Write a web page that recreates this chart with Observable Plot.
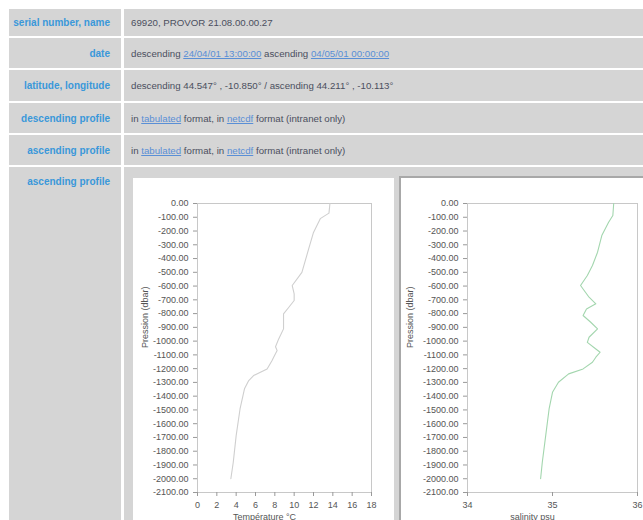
<!DOCTYPE html>
<html>
<head>
<meta charset="utf-8">
<script src="https://cdn.jsdelivr.net/npm/d3@7"></script>
<script src="https://cdn.jsdelivr.net/npm/@observablehq/plot@0.6"></script>
<style>
  html, body { margin: 0; padding: 0; background: #fff; }
  #page { position: relative; width: 643px; height: 520px; overflow: hidden; font-family: "Liberation Sans", Arial, sans-serif; }
  .lab { position: absolute; left: 9px; width: 112px; background: #d5d5d5; color: #3a98da; font-weight: bold; font-size: 10px; text-align: right; box-sizing: border-box; padding-right: 11px; display: flex; align-items: center; justify-content: flex-end; white-space: nowrap; }
  .val { position: absolute; left: 124px; width: 530px; background: #d5d5d5; color: #4b4f5e; font-size: 9.7px; box-sizing: border-box; padding-left: 7px; display: flex; align-items: center; white-space: pre; }
  .val a { color: #5a8fd6; text-decoration: underline; }
  .box { position: absolute; background: #fff; overflow: hidden; }
</style>
</head>
<body>
<div id="page"></div>
<script>
// ---- data ----
const rowLabels = ["serial number, name", "date", "latitude, longitude", "descending profile", "ascending profile", "ascending profile"];
const rowValues = [
  "69920, PROVOR 21.08.00.00.27",
  'descending <a>24/04/01 13:00:00</a> ascending <a>04/05/01 00:00:00</a>',
  "descending 44.547° , -10.850° / ascending 44.211° , -10.113°",
  'in <a>tabulated</a> format, in <a>netcdf</a> format (intranet only)',
  'in <a>tabulated</a> format, in <a>netcdf</a> format (intranet only)',
  ""
];

const tempDepth = [0, 70, 110, 210, 330, 500, 596, 656, 705, 754, 802, 911, 984, 1041, 1069, 1105, 1142, 1202, 1250, 1287, 1347, 1493, 1687, 1880, 2000];
const tempValue = [13.7, 13.6, 12.7, 12.0, 11.5, 10.8, 9.8, 10.0, 10.0, 9.45, 8.9, 8.9, 8.4, 8.07, 8.24, 7.97, 7.7, 7.2, 5.8, 5.3, 4.86, 4.4, 4.0, 3.7, 3.45];

const salDepth = [0, 87, 136, 233, 354, 451, 523, 596, 681, 729, 766, 814, 863, 911, 972, 1009, 1057, 1081, 1117, 1154, 1202, 1238, 1299, 1372, 1493, 1687, 1880, 2000];
const salValue = [35.72, 35.71, 35.66, 35.58, 35.53, 35.47, 35.41, 35.33, 35.43, 35.51, 35.40, 35.36, 35.45, 35.53, 35.43, 35.41, 35.51, 35.56, 35.51, 35.47, 35.36, 35.19, 35.07, 35.0, 34.96, 34.92, 34.88, 34.86];

const depthTicks = d3.range(-2100, 1, 100);
const tempTicks = d3.range(0, 19, 2);
const salTicks = [34, 35, 36];
const yLabel = "Pression (dbar)";
const tempLabel = "Température °C";
const salLabel = "salinity psu";

// ---- table ----
const page = document.getElementById("page");
const rows = [[9, 27], [38, 30], [70, 31], [103, 30], [135, 30], [167, 360]];
rows.forEach(([top, h], i) => {
  const l = document.createElement("div");
  l.className = "lab";
  l.style.top = top + "px"; l.style.height = h + "px";
  l.textContent = rowLabels[i];
  const v = document.createElement("div");
  v.className = "val";
  v.style.top = top + "px"; v.style.height = h + "px";
  v.innerHTML = rowValues[i];
  if (i === 5) { l.style.alignItems = "flex-start"; l.style.paddingTop = "9px"; }
  page.appendChild(l); page.appendChild(v);
});

function profile(values, depths, opts) {
  const data = values.map((v, i) => ({v, d: -depths[i]}));
  return Plot.plot({
    width: 260, height: 360,
    marginLeft: opts.ml, marginRight: opts.mr, marginTop: 23, marginBottom: 48,
    style: {fontFamily: "Liberation Sans, Arial, sans-serif", fontSize: "9px", color: "#555", background: "transparent"},
    x: {domain: opts.domain, ticks: opts.ticks, tickFormat: d => String(d)},
    y: {domain: [-2100, 0], ticks: depthTicks, tickFormat: d => d.toFixed(2)},
    marks: [
      Plot.frame({stroke: "#c8c8c8"}),
      Plot.axisX({ticks: opts.ticks, tickFormat: d => String(d), tickSize: 4, label: null, stroke: "#999", fill: "#555"}),
      Plot.axisY({ticks: depthTicks, tickFormat: d => d.toFixed(2), tickSize: 4, label: null, stroke: "#999", fill: "#555"}),
      Plot.line(data, {x: "v", y: "d", stroke: opts.color, strokeWidth: 1.1}),
      Plot.text([opts.xlabel], {frameAnchor: "bottom", dy: 27, dx: -20, fill: "#555", fontSize: 9}),
      Plot.text([yLabel], {frameAnchor: "left", rotate: -90, dx: opts.ylx, fill: "#555", fontSize: 9})
    ]
  });
}

// left chart box
const b1 = document.createElement("div");
b1.className = "box";
Object.assign(b1.style, {left: "133px", top: "178px", width: "261px", height: "360px"});
const c1 = profile(tempValue, tempDepth, {ml: 64, mr: 22, domain: [0, 18], ticks: tempTicks, color: "#cfcfcf", xlabel: tempLabel, ylx: -52});
c1.style.position = "absolute"; c1.style.left = "0px"; c1.style.top = "2px";
b1.appendChild(c1);
page.appendChild(b1);

// right chart box
const b2 = document.createElement("div");
b2.className = "box";
Object.assign(b2.style, {left: "399px", top: "176px", width: "260px", height: "360px", borderLeft: "2px solid #a8a8a8", borderTop: "2px solid #a8a8a8"});
const c2 = profile(salValue, salDepth, {ml: 66, mr: 24, domain: [34, 36], ticks: salTicks, color: "#a3d6ae", xlabel: salLabel, ylx: -57});
c2.style.position = "absolute"; c2.style.left = "0px"; c2.style.top = "2px";
b2.appendChild(c2);
page.appendChild(b2);
</script>
</body>
</html>
